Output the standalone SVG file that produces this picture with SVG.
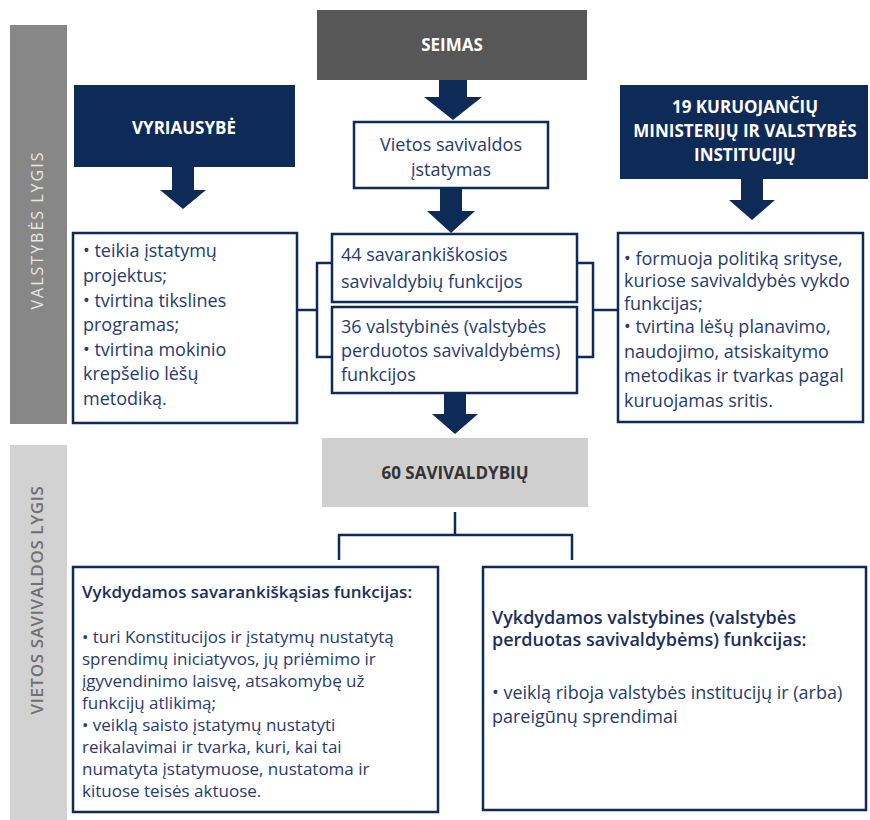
<svg xmlns="http://www.w3.org/2000/svg" width="870" height="820" viewBox="0 0 870 820">
<style>
.bg{fill:#ffffff}
.navy{fill:#0e2a57}
.wbox{fill:#ffffff;stroke:#0e2a57;stroke-width:2.5}
.hdr{font-family:"Open Sans","Liberation Sans",sans-serif;font-weight:bold;font-size:17px;fill:#ffffff;text-anchor:middle}
.body{font-family:"Open Sans","Liberation Sans",sans-serif;font-size:18px;fill:#263b70}
.small{font-size:17px}
.bodyb{font-family:"Open Sans","Liberation Sans",sans-serif;font-size:18px;fill:#1c2f5e;font-weight:600}
.ctr{text-anchor:middle}
.side{font-family:"Open Sans","Liberation Sans",sans-serif;font-size:16px;text-anchor:middle;letter-spacing:2px}
.conn{fill:none;stroke:#0e2a57;stroke-width:2.5}
.arrow{fill:#0e2a57}
</style>
<rect class="bg" x="0" y="0" width="870" height="820"/>

<g id="side-valstybes">
<rect x="10" y="25" width="57" height="399" fill="#878787"/>
<text class="side" transform="translate(43,230) rotate(-90)" fill="#e6e6e6">VALSTYBĖS LYGIS</text>
</g>
<g id="side-vietos">
<rect x="10" y="445" width="57" height="375" fill="#d2d2d2"/>
<text class="side" transform="translate(43,600) rotate(-90)" fill="#707070" style="font-weight:600;font-size:17px;letter-spacing:0.6px">VIETOS SAVIVALDOS LYGIS</text>
</g>

<g id="seimas">
<rect x="317" y="10" width="270" height="70" fill="#575757"/>
<text class="hdr" x="452" y="51">SEIMAS</text>
</g>

<g id="vyriausybe">
<rect class="navy" x="74" y="85" width="221" height="82"/>
<text class="hdr" x="184" y="134">VYRIAUSYBĖ</text>
</g>

<g id="ministerijos">
<rect class="navy" x="620" y="85" width="248" height="94"/>
<text class="hdr" x="745" y="113">19 KURUOJANČIŲ</text>
<text class="hdr" x="745" y="137">MINISTERIJŲ IR VALSTYBĖS</text>
<text class="hdr" x="745" y="161">INSTITUCIJŲ</text>
</g>

<g id="istatymas">
<rect class="wbox" x="354" y="122" width="194" height="66"/>
<text class="body ctr" x="451" y="151">Vietos savivaldos</text>
<text class="body ctr" x="451" y="176">įstatymas</text>
</g>

<g id="vyriausybe-funkcijos">
<rect class="wbox" x="73" y="233" width="224" height="190"/>
<text class="body" x="83" y="257">• teikia įstatymų</text>
<text class="body" x="83" y="282">projektus;</text>
<text class="body" x="83" y="306.5">• tvirtina tikslines</text>
<text class="body" x="83" y="331">programas;</text>
<text class="body" x="83" y="355.5">• tvirtina mokinio</text>
<text class="body" x="83" y="380">krepšelio lėšų</text>
<text class="body" x="83" y="405">metodiką.</text>
</g>

<g id="savarankiskosios">
<rect class="wbox" x="332" y="234" width="245" height="68"/>
<text class="body" x="341" y="261">44 savarankiškosios</text>
<text class="body" x="341" y="288">savivaldybių funkcijos</text>
</g>

<g id="valstybines">
<rect class="wbox" x="332" y="307" width="245" height="86"/>
<text class="body" x="341" y="333">36 valstybinės (valstybės</text>
<text class="body" x="341" y="357">perduotos savivaldybėms)</text>
<text class="body" x="341" y="381">funkcijos</text>
</g>

<g id="ministerijos-funkcijos">
<rect class="wbox" x="618" y="233" width="245" height="189"/>
<text class="body" x="624" y="265">• formuoja politiką srityse,</text>
<text class="body" x="624" y="287">kuriose savivaldybės vykdo</text>
<text class="body" x="624" y="310">funkcijas;</text>
<text class="body" x="624" y="333">• tvirtina lėšų planavimo,</text>
<text class="body" x="624" y="358">naudojimo, atsiskaitymo</text>
<text class="body" x="624" y="382">metodikas ir tvarkas pagal</text>
<text class="body" x="624" y="407">kuruojamas sritis.</text>
</g>

<g id="savivaldybes">
<rect x="322" y="438" width="266" height="69" fill="#cfcfcf"/>
<text class="hdr" x="455" y="479" style="fill:#333333">60 SAVIVALDYBIŲ</text>
</g>

<g id="savarankiskos-vykdymas">
<rect class="wbox" x="73" y="567" width="365" height="245"/>
<text class="bodyb" x="82" y="598" style="font-size:17px">Vykdydamos savarankiškąsias funkcijas:</text>
<text class="body small" x="82" y="643">• turi Konstitucijos ir įstatymų nustatytą</text>
<text class="body small" x="82" y="665">sprendimų iniciatyvos, jų priėmimo ir</text>
<text class="body small" x="82" y="687">įgyvendinimo laisvę, atsakomybę už</text>
<text class="body small" x="82" y="709">funkcijų atlikimą;</text>
<text class="body small" x="82" y="731">• veiklą saisto įstatymų nustatyti</text>
<text class="body small" x="82" y="753">reikalavimai ir tvarka, kuri, kai tai</text>
<text class="body small" x="82" y="775">numatyta įstatymuose, nustatoma ir</text>
<text class="body small" x="82" y="797">kituose teisės aktuose.</text>
</g>

<g id="valstybines-vykdymas">
<rect class="wbox" x="483" y="567" width="383" height="243"/>
<text class="bodyb" x="492" y="624">Vykdydamos valstybines (valstybės</text>
<text class="bodyb" x="492" y="646">perduotas savivaldybėms) funkcijas:</text>
<text class="body" x="492" y="699">• veiklą riboja valstybės institucijų ir (arba)</text>
<text class="body" x="492" y="723">pareigūnų sprendimai</text>
</g>

<g id="connectors">
<path class="arrow" d="M439,80 H467 V97 H482 L453,120 L424,97 H439 Z"/>
<path class="arrow" d="M172,167 H194 V190 H206 L183,209 L160,190 H172 Z"/>
<path class="arrow" d="M741,179 H763 V200 H775 L752,220 L729,200 H741 Z"/>
<path class="arrow" d="M440,188 H462 V211 H475 L451,233 L427,211 H440 Z"/>
<path class="arrow" d="M444,393 H466 V414 H478 L455,434 L432,414 H444 Z"/>
<path class="conn" d="M332,263 H317 V357 H332 M297,310 H317"/>
<path class="conn" d="M577,263 H593 V357 H577 M593,310 H618"/>
<path class="conn" d="M455,512 V535 M339,560 V535 H572 V560"/>
</g>
</svg>
